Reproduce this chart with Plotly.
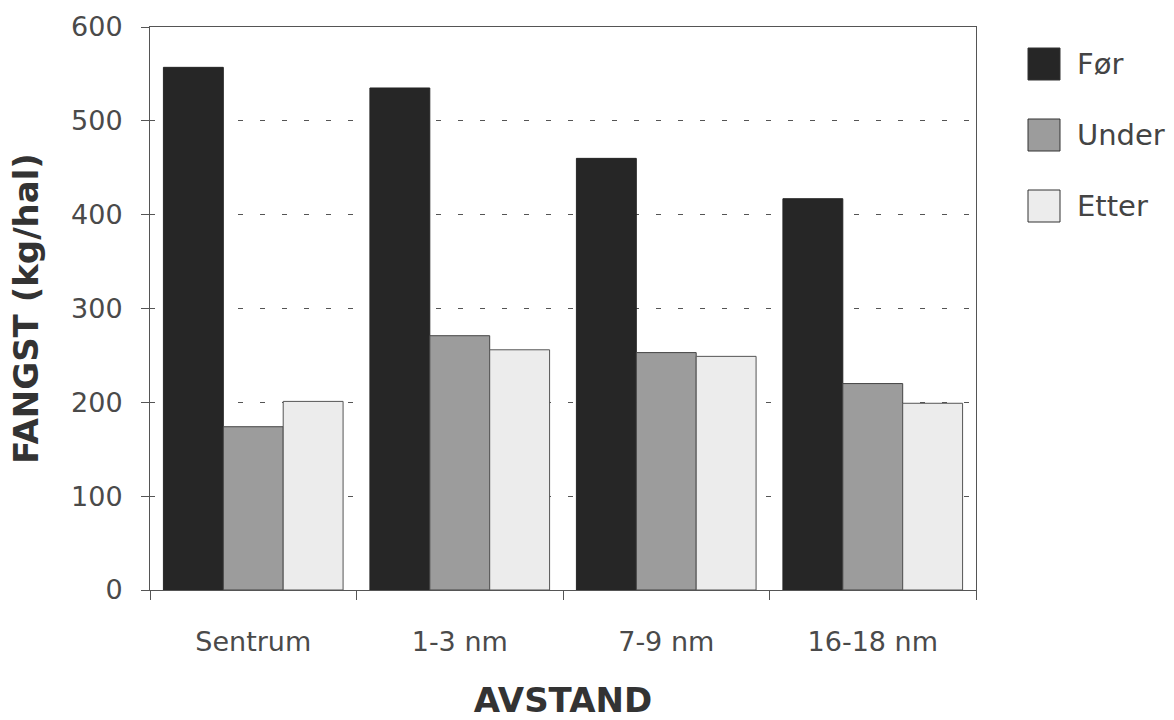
import plotly.graph_objects as go

# Catch per haul by distance from the centre, before / during / after
categories = ["Sentrum", "1-3 nm", "7-9 nm", "16-18 nm"]
series_names = ["Før", "Under", "Etter"]
for_values = [557, 535, 460, 417]
under_values = [174, 271, 253, 220]
etter_values = [201, 256, 249, 199]
y_ticks = [0, 100, 200, 300, 400, 500, 600]

series_values = [for_values, under_values, etter_values]
fills = ["#262626", "#9c9c9c", "#ececec"]
outlines = ["#262626", "#444444", "#555555"]

W, H = 1174, 720
L, R, T, B = 150, 976, 27, 590

fig = go.Figure()
for name, vals, fc, lc in zip(series_names, series_values, fills, outlines):
    fig.add_trace(go.Bar(
        x=categories, y=vals, name=name,
        marker=dict(color=fc, line=dict(color=lc, width=1)),
        showlegend=False,
    ))

tick_font = dict(family="DejaVu Sans, sans-serif", size=27, color="#4a4a4a")
title_font = dict(family="DejaVu Sans, sans-serif", size=34, color="#333333", weight="bold")

fig.update_layout(
    width=W, height=H,
    margin=dict(l=L, r=W - R, t=T, b=H - B),
    paper_bgcolor="white", plot_bgcolor="white",
    barmode="group", bargap=0.13, bargroupgap=0,
    xaxis=dict(
        type="category", tickson="boundaries", ticks="outside", ticklen=9,
        tickcolor="#555555", tickfont=tick_font, showgrid=False,
        ticklabelstandoff=28, automargin=False,
        showline=True, linecolor="#555555", linewidth=1, mirror=True,
        title=dict(text="AVSTAND", font=title_font, standoff=36),
    ),
    yaxis=dict(
        range=[0, 600], tickvals=y_ticks, ticks="outside", ticklen=8,
        tickcolor="#555555", tickfont=tick_font, ticklabelstandoff=13,
        automargin=False,
        showgrid=True, gridcolor="#555555", gridwidth=1, griddash="5px,17px",
        zeroline=False,
        showline=True, linecolor="#555555", linewidth=1, mirror=True,
        title=dict(text="FANGST (kg/hal)", font=title_font, standoff=22),
    ),
)


def px_x(v):
    return (v - L) / (R - L)


def px_y(v):
    return (B - v) / (B - T)


# Legend drawn as large swatches with labels to the right of the plot
legend_tops = [48, 119, 190]
for name, fc, lc, top in zip(series_names, fills, outlines, legend_tops):
    fig.add_shape(
        type="rect", xref="paper", yref="paper",
        x0=px_x(1028), x1=px_x(1060), y0=px_y(top + 32), y1=px_y(top),
        fillcolor=fc, line=dict(color="#333333", width=1),
    )
    fig.add_annotation(
        xref="paper", yref="paper", x=px_x(1075), y=px_y(top + 16),
        text=name, showarrow=False, xanchor="left", yanchor="middle",
        font=dict(family="DejaVu Sans, sans-serif", size=29, color="#444444"),
    )

fig.write_html("out.html")
